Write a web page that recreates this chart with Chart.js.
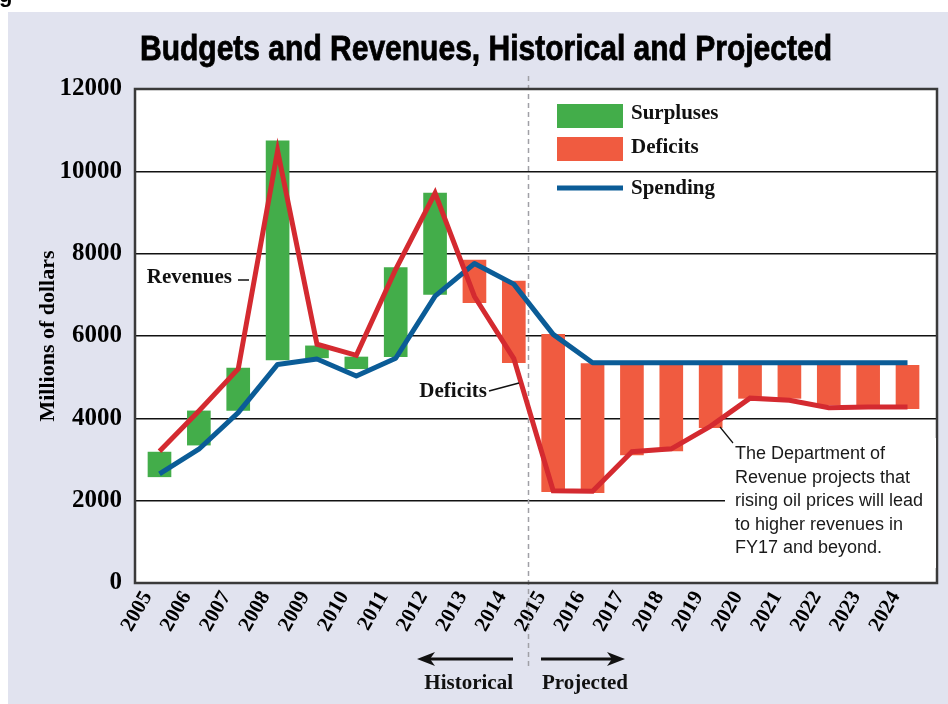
<!DOCTYPE html>
<html><head><meta charset="utf-8">
<script src="https://cdn.jsdelivr.net/npm/chart.js@4.4.1/dist/chart.umd.min.js"></script>
<style>html,body{margin:0;padding:0;background:#fff}</style>
</head><body><canvas id="c" width="948" height="704"></canvas>
<script>
// data (millions of dollars)
const years=['2005','2006','2007','2008','2009','2010','2011','2012','2013','2014','2015','2016','2017','2018','2019','2020','2021','2022','2023','2024'];
const revenues=[3200,4180,5200,10500,5800,5530,7620,9470,6960,5450,2240,2230,3190,3260,3810,4490,4440,4260,4275,4275];
const spending=[2650,3250,4140,5310,5440,5030,5460,6970,7760,7260,6040,5350,5350,5350,5350,5350,5350,5350,5350,5350];
// surplus bars: 2005-2012, deficit bars: 2013-2024
const surplusLow=[2580,3350,4195,5420,5470,5205,5500,7010];
const surplusHigh=[3180,4180,5220,10740,5760,5490,7660,9470];
const deficitHigh=[7846,7336,6041,5330,5320,5320,5320,5290,5290,5290,5290,5290];
const deficitLow=[6810,5350,2218,2194,3109,3206,3772,4486,4486,4324,4324,4234];
const yTicks=[0,2000,4000,6000,8000,10000,12000];
const splitAt=9.36; // historical | projected

const GREEN='#43ad4a',ORANGE='#f05b40',RED='#d42a30',BLUE='#0b5c97',PANEL='#e1e3ef';
const serif='"Liberation Serif","Times New Roman",serif';
const sans='"Liberation Sans",Arial,sans-serif';

const surplusData=surplusLow.map((lo,i)=>({x:i,y:[lo,surplusHigh[i]]}));
const deficitData=deficitLow.map((lo,i)=>({x:i+surplusLow.length,y:[lo,deficitHigh[i]]}));

function arrow(c,x1,x2,y){
  const d=x2>x1?1:-1;
  c.beginPath();c.moveTo(x1,y);c.lineTo(x2-d*12,y);c.lineWidth=3;c.stroke();
  c.beginPath();c.moveTo(x2,y);c.lineTo(x2-d*18,y-7);c.lineTo(x2-d*13,y);c.lineTo(x2-d*18,y+7);c.closePath();c.fill();
}

const decor={id:'decor',
  beforeDraw(ch){
    const c=ch.ctx,a=ch.chartArea;
    c.save();
    c.fillStyle='#fff';c.fillRect(0,0,ch.width,ch.height);
    c.fillStyle=PANEL;c.fillRect(8,12,ch.width-8,ch.height-12);
    c.fillStyle='#fff';c.fillRect(a.left,a.top,a.right-a.left,a.bottom-a.top);
    c.fillStyle='#000';c.font='bold 22px '+sans;c.textBaseline='alphabetic';c.fillText('g',-1,2);
    c.restore();
  },
  beforeDatasetsDraw(ch){
    const c=ch.ctx,a=ch.chartArea,sx=Math.round(ch.scales.x.getPixelForValue(splitAt))+0.5;
    c.save();
    c.strokeStyle='#a0a0a6';c.lineWidth=1.5;c.setLineDash([5,4]);
    c.beginPath();c.moveTo(sx,a.top-13);c.lineTo(sx,a.bottom+85);c.stroke();
    c.restore();
  },
  afterDraw(ch){
    const c=ch.ctx,a=ch.chartArea,sx=Math.round(ch.scales.x.getPixelForValue(splitAt));
    c.save();
    // plot frame
    c.strokeStyle='#3a3a3a';c.lineWidth=2.5;
    c.strokeRect(a.left,a.top,a.right-a.left,a.bottom-a.top);
    // title
    c.fillStyle='#000';c.font='bold 35px '+sans;c.textBaseline='alphabetic';c.textAlign='left';
    const t='Budgets and Revenues, Historical and Projected';
    const w=c.measureText(t).width,k=692/w;
    c.save();c.translate(140,60);c.scale(k,1);
    c.lineWidth=0.8;c.strokeStyle='#000';c.strokeText(t,0,0);c.fillText(t,0,0);c.restore();
    // legend
    c.fillStyle=GREEN;c.fillRect(557,104,66,24);
    c.fillStyle=ORANGE;c.fillRect(557,137,66,24);
    c.strokeStyle=BLUE;c.lineWidth=5;c.beginPath();c.moveTo(557,188);c.lineTo(623,188);c.stroke();
    c.fillStyle='#111';c.font='bold 21px '+serif;
    c.fillText('Surpluses',631,119);c.fillText('Deficits',631,153);c.fillText('Spending',631,194);
    // callouts
    c.textAlign='right';c.textBaseline='middle';
    c.fillText('Revenues',232,278);
    c.fillText('Deficits',487,392);
    c.strokeStyle='#111';c.lineWidth=1.5;
    c.beginPath();c.moveTo(238,280);c.lineTo(249,280);c.stroke();
    c.beginPath();c.moveTo(489,391);c.lineTo(519,383);c.stroke();
    // note box
    c.fillStyle='#fff';c.fillRect(725,438,a.right-726,130);
    c.strokeStyle='#111';c.lineWidth=1.2;
    c.beginPath();c.moveTo(720,427);c.lineTo(733,443);c.stroke();
    c.fillStyle='#1a1a1a';c.font='18px '+sans;c.textAlign='left';c.textBaseline='alphabetic';
    ['The Department of','Revenue projects that','rising oil prices will lead','to higher revenues in','FY17 and beyond.']
      .forEach((s,i)=>c.fillText(s,735,459+i*23.5));
    // historical / projected arrows
    c.fillStyle='#111';c.strokeStyle='#111';
    arrow(c,sx-15,sx-111,659);
    arrow(c,sx+13,sx+97,659);
    c.font='bold 21px '+serif;
    c.textAlign='right';c.fillText('Historical',sx-15,689);
    c.textAlign='left';c.fillText('Projected',sx+14,689);
    c.restore();
  }
};

new Chart(document.getElementById('c'),{
  data:{datasets:[
    {type:'line',label:'Revenues',data:revenues.map((v,i)=>({x:i,y:v})),borderColor:RED,borderWidth:5,pointRadius:0,tension:0,borderJoinStyle:'miter',order:1},
    {type:'line',label:'Spending',data:spending.map((v,i)=>({x:i,y:v})),borderColor:BLUE,borderWidth:5,pointRadius:0,tension:0,borderJoinStyle:'round',order:2},
    {type:'bar',label:'Surpluses',data:surplusData,backgroundColor:GREEN,barThickness:23,grouped:false,order:3},
    {type:'bar',label:'Deficits',data:deficitData,backgroundColor:ORANGE,barThickness:23,grouped:false,order:3}
  ]},
  options:{
    responsive:false,animation:false,devicePixelRatio:1,
    layout:{padding:{top:89,right:11,bottom:0,left:0}},
    plugins:{legend:{display:false},tooltip:{enabled:false}},
    scales:{
      x:{type:'linear',min:-0.622,max:19.749,offset:false,
        grid:{display:false,drawTicks:false},border:{display:false},
        afterBuildTicks:s=>{s.ticks=years.map((y,i)=>({value:i}));},
        afterFit:s=>{s.height=121;},
        ticks:{autoSkip:false,minRotation:60,maxRotation:60,labelOffset:-12,padding:4,color:'#000',
          font:{family:serif,size:21,weight:'bold'},callback:v=>years[v]??''}},
      y:{min:0,max:12000,
        afterBuildTicks:s=>{s.ticks=yTicks.map(v=>({value:v}));},
        afterFit:s=>{s.width=135;},
        grid:{color:'#111',lineWidth:1.5,drawTicks:false},border:{display:false},
        ticks:{padding:13,color:'#000',font:{family:serif,size:25,weight:'bold'},callback:v=>String(v)},
        title:{display:true,text:'Millions of dollars',color:'#000',padding:{top:35,bottom:0},
          font:{family:serif,size:22,weight:'bold'}}}
    }
  },
  plugins:[decor]
});
</script></body></html>
